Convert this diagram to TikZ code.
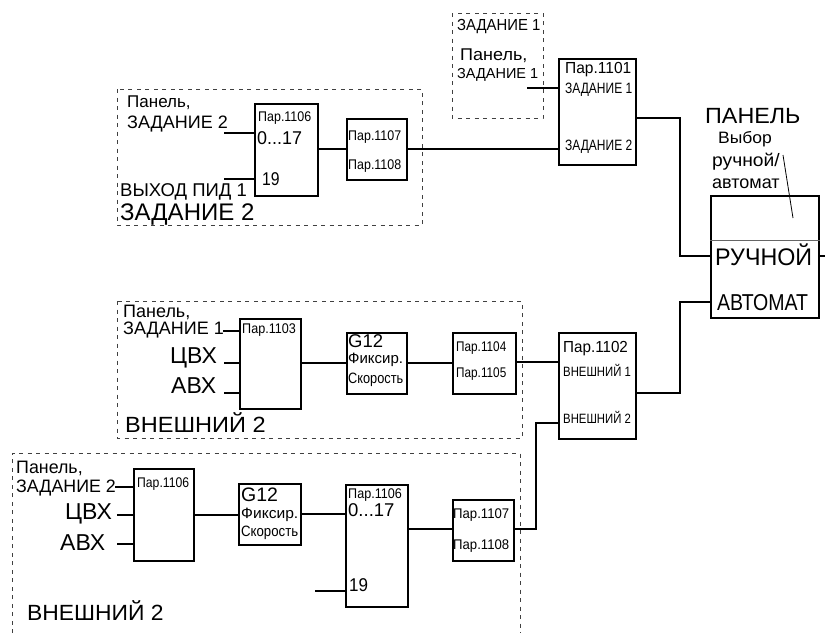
\documentclass[tikz,border=0pt]{standalone}
\usepackage{fontspec}
\setmainfont{Liberation Sans}
\newcommand{\fs}[1]{\fontsize{#1}{#1}\selectfont}
\newcommand{\sx}[2]{\scalebox{#1}[1]{#2}}
\begin{document}
\begin{tikzpicture}[x=1pt,y=-1pt,
  box/.style={draw, line width=1.8pt, inner sep=0pt, anchor=north west},
  lbl/.style={anchor=base west, inner sep=0pt},
  wire/.style={line width=1.8pt},
  grp/.style={draw=black!75, line width=0.8pt, dash pattern=on 4pt off 4.5pt}]
\useasboundingbox (0,0) rectangle (825,633);

% dashed groups
\draw[grp] (452,13) rectangle (543,118);
\draw[grp] (117,89) rectangle (422,225);
\draw[grp] (117,301) rectangle (522,438);
\draw[grp] (12,633) -- (12,453) -- (520,453) -- (520,633);

% blocks
\node[box, minimum width=77pt, minimum height=106pt] (B1101) at (558,58) {};
\node[box, minimum width=108pt, minimum height=122pt] (P) at (710,195) {};
\node[box, minimum width=77pt, minimum height=106pt] (B1102) at (558,332) {};
\node[box, minimum width=63pt, minimum height=92pt] (T1106) at (254,103) {};
\node[box, minimum width=60pt, minimum height=61pt] (T1107) at (346,118) {};
\node[box, minimum width=61pt, minimum height=90pt] (M1103) at (239,318) {};
\node[box, minimum width=60pt, minimum height=61pt] (MG12) at (346,332) {};
\node[box, minimum width=63pt, minimum height=61pt] (M1104) at (452,332) {};
\node[box, minimum width=60pt, minimum height=92pt] (B1106a) at (133,468) {};
\node[box, minimum width=62pt, minimum height=61pt] (BG12) at (238,483) {};
\node[box, minimum width=62pt, minimum height=122pt] (B1106b) at (345,484) {};
\node[box, minimum width=61pt, minimum height=61pt] (B1107) at (452,499) {};

% panel separator and pointer
\draw[line width=0.8pt, black!60] (P.west |- 0,240) -- (P.east |- 0,240);
\coordinate (slA) at (783,155);
\coordinate (slB) at (793,218);
\draw[line width=0.8pt] (slA) -- (slB);

% free ends
\coordinate (z1in) at (527,88);
\coordinate (t1) at (224,133);
\coordinate (t2) at (224,179);
\coordinate (m1) at (223,331);
\coordinate (m2) at (224,363);
\coordinate (m3) at (224,393);
\coordinate (b1) at (115,487);
\coordinate (b2) at (117,515);
\coordinate (b3) at (117,544);
\coordinate (b4) at (315,591);
\coordinate (pout) at (825,256);

% connectors
\draw[wire] (z1in) -- (B1101.west |- z1in);
\draw[wire] (T1107.east |- 0,149) -- (B1101.west |- 0,149);
\draw[wire] (B1101.east |- 0,118) -- (680,118) -- (680,256) -- (P.west |- 0,256);
\draw[wire] (P.east |- pout) -- (pout);
\draw[wire] (B1102.east |- 0,393) -- (680,393) -- (680,302) -- (P.west |- 0,302);
\draw[wire] (M1104.east |- 0,362) -- (B1102.west |- 0,362);
\draw[wire] (B1107.east |- 0,529) -- (536,529) -- (536,423) -- (B1102.west |- 0,423);
\draw[wire] (t1) -- (T1106.west |- t1);
\draw[wire] (t2) -- (T1106.west |- t2);
\draw[wire] (T1106.east |- 0,149) -- (T1107.west |- 0,149);
\draw[wire] (m1) -- (M1103.west |- m1);
\draw[wire] (m2) -- (M1103.west |- m2);
\draw[wire] (m3) -- (M1103.west |- m3);
\draw[wire] (M1103.east |- 0,363) -- (MG12.west |- 0,363);
\draw[wire] (MG12.east |- 0,363) -- (M1104.west |- 0,363);
\draw[wire] (b1) -- (B1106a.west |- b1);
\draw[wire] (b2) -- (B1106a.west |- b2);
\draw[wire] (b3) -- (B1106a.west |- b3);
\draw[wire] (B1106a.east |- 0,515) -- (BG12.west |- 0,515);
\draw[wire] (BG12.east |- 0,514) -- (B1106b.west |- 0,514);
\draw[wire] (b4) -- (B1106b.west |- b4);
\draw[wire] (B1106b.east |- 0,529) -- (B1107.west |- 0,529);

% labels: top right
\node[lbl, font=\fs{16}] (l1) at (457,30) {\sx{0.93}{ЗАДАНИЕ 1}};
\node[lbl, font=\fs{17}] (l2) at (460,60) {\sx{1.06}{Панель,}};
\node[lbl, font=\fs{14.5}] (l3) at (457,78) {\sx{1}{ЗАДАНИЕ 1}};
\node[lbl, font=\fs{16}] (l4) at (565,73) {\sx{0.97}{Пар.1101}};
\node[lbl, font=\fs{15}] (l5) at (565,93) {\sx{0.8}{ЗАДАНИЕ 1}};
\node[lbl, font=\fs{15}] (l6) at (565,150) {\sx{0.8}{ЗАДАНИЕ 2}};
\node[lbl, font=\fs{22}] (l7) at (705,123) {\sx{1.06}{ПАНЕЛЬ}};
\node[lbl, font=\fs{16.5}] (l8) at (718,143) {\sx{1.06}{Выбор}};
\node[lbl, font=\fs{18}] (l9) at (712,166) {\sx{1.07}{ручной/}};
\node[lbl, font=\fs{18}] (l10) at (712,188) {\sx{1}{автомат}};
\node[lbl, font=\fs{24}] (l11) at (715,265) {\sx{0.97}{РУЧНОЙ}};
\node[lbl, font=\fs{23}] (l12) at (717,310) {\sx{0.85}{АВТОМАТ}};

% labels: top left
\node[lbl, font=\fs{17}] (l13) at (127,107) {\sx{1}{Панель,}};
\node[lbl, font=\fs{18}] (l14) at (127,128) {\sx{1}{ЗАДАНИЕ 2}};
\node[lbl, font=\fs{18.5}] (l15) at (120,196) {\sx{1}{ВЫХОД ПИД 1}};
\node[lbl, font=\fs{24}] (l16) at (120,220) {\sx{1}{ЗАДАНИЕ 2}};
\node[lbl, font=\fs{14}] (l17) at (258,121) {\sx{0.89}{Пар.1106}};
\node[lbl, font=\fs{18.5}] (l18) at (257,144) {\sx{0.97}{0...17}};
\node[lbl, font=\fs{18.5}] (l19) at (262,185) {\sx{0.85}{19}};
\node[lbl, font=\fs{14}] (l20) at (348,140) {\sx{0.89}{Пар.1107}};
\node[lbl, font=\fs{14}] (l21) at (348,169) {\sx{0.89}{Пар.1108}};

% labels: middle
\node[lbl, font=\fs{18}] (l22) at (123,317) {\sx{1}{Панель,}};
\node[lbl, font=\fs{18}] (l23) at (123,334) {\sx{1}{ЗАДАНИЕ 1}};
\node[lbl, font=\fs{23}] (l24) at (170,363) {\sx{1}{ЦВХ}};
\node[lbl, font=\fs{23}] (l25) at (171,393) {\sx{1}{АВХ}};
\node[lbl, font=\fs{22}] (l26) at (125,432) {\sx{1.07}{ВНЕШНИЙ 2}};
\node[lbl, font=\fs{14}] (l27) at (242,333) {\sx{0.9}{Пар.1103}};
\node[lbl, font=\fs{18.5}] (l28) at (348,347) {\sx{1}{G12}};
\node[lbl, font=\fs{15}] (l29) at (348,363) {\sx{1}{Фиксир.}};
\node[lbl, font=\fs{15}] (l30) at (348,383) {\sx{0.85}{Скорость}};
\node[lbl, font=\fs{14}] (l31) at (456,351) {\sx{0.84}{Пар.1104}};
\node[lbl, font=\fs{14}] (l32) at (456,377) {\sx{0.84}{Пар.1105}};
\node[lbl, font=\fs{16}] (l33) at (563,352) {\sx{0.95}{Пар.1102}};
\node[lbl, font=\fs{13.5}] (l34) at (563,376) {\sx{0.84}{ВНЕШНИЙ 1}};
\node[lbl, font=\fs{13.5}] (l35) at (563,423) {\sx{0.84}{ВНЕШНИЙ 2}};

% labels: bottom
\node[lbl, font=\fs{18}] (l36) at (16,473) {\sx{0.99}{Панель,}};
\node[lbl, font=\fs{18}] (l37) at (16,492) {\sx{0.99}{ЗАДАНИЕ 2}};
\node[lbl, font=\fs{23}] (l38) at (65,519) {\sx{1}{ЦВХ}};
\node[lbl, font=\fs{23}] (l39) at (60,550) {\sx{1}{АВХ}};
\node[lbl, font=\fs{22}] (l40) at (27,620) {\sx{1.04}{ВНЕШНИЙ 2}};
\node[lbl, font=\fs{14}] (l41) at (137,487) {\sx{0.87}{Пар.1106}};
\node[lbl, font=\fs{19.5}] (l42) at (241,501) {\sx{1}{G12}};
\node[lbl, font=\fs{15}] (l43) at (241,518) {\sx{1.04}{Фиксир.}};
\node[lbl, font=\fs{15}] (l44) at (241,536) {\sx{0.88}{Скорость}};
\node[lbl, font=\fs{14}] (l45) at (348,498) {\sx{0.9}{Пар.1106}};
\node[lbl, font=\fs{18.5}] (l46) at (348,516) {\sx{1}{0...17}};
\node[lbl, font=\fs{18.5}] (l47) at (349,591) {\sx{0.92}{19}};
\node[lbl, font=\fs{14}] (l48) at (453,518) {\sx{0.94}{Пар.1107}};
\node[lbl, font=\fs{14}] (l49) at (453,549) {\sx{0.94}{Пар.1108}};
\end{tikzpicture}
\end{document}
